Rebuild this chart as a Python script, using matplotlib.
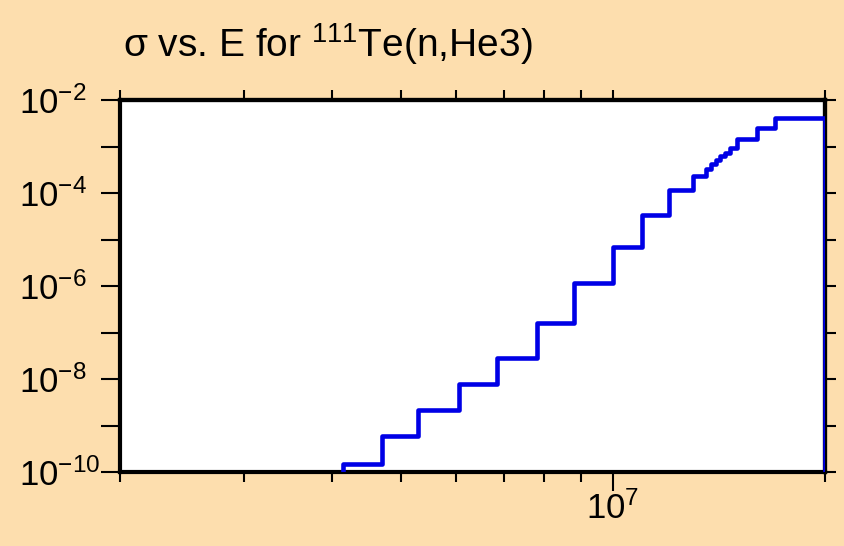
import numpy as np
import matplotlib
matplotlib.use('Agg')
import matplotlib.pyplot as plt
from matplotlib.ticker import LogLocator, NullFormatter, NullLocator, FixedLocator, FuncFormatter

plt.rcParams['font.family'] = ['Liberation Sans', 'DejaVu Sans']
plt.rcParams['mathtext.fontset'] = 'custom'
plt.rcParams['mathtext.rm'] = 'Liberation Sans'
plt.rcParams['mathtext.it'] = 'Liberation Sans'
plt.rcParams['mathtext.default'] = 'regular'
plt.rcParams['axes.unicode_minus'] = False

# step edges (eV) and cross sections (b); zero below threshold and above 20 MeV
energy = [4.15e6, 4.15e6, 4.7e6, 5.3e6, 6.05e6, 6.85e6, 7.8e6, 8.8e6, 1.0e7, 1.1e7,
          1.2e7, 1.3e7, 1.355e7, 1.38e7, 1.4e7, 1.42e7, 1.445e7, 1.465e7, 1.5e7,
          1.6e7, 1.7e7, 2.0e7]
sigma = [1e-30, 1.5e-10, 5.9e-10, 2.2e-9, 7.8e-9, 2.8e-8, 1.6e-7, 1.16e-6, 6.9e-6, 3.4e-5,
         1.16e-4, 2.3e-4, 3.3e-4, 4.2e-4, 5.1e-4, 6.3e-4, 7.2e-4, 9.3e-4, 1.45e-3,
         2.5e-3, 4.1e-3, 1e-30]
ydecades = list(range(-10, -1))

bg = '#fddeae'
fig = plt.figure(figsize=(8.44, 5.46), dpi=100, facecolor=bg)
ax = fig.add_axes([120/844, 1-472/546, 705/844, 372/546])
ax.set_facecolor('white')

ax.plot(energy, sigma, drawstyle='steps-post', color='#0000e6', lw=3.3, zorder=3)

ax.set_xscale('log')
ax.set_yscale('log')
ax.set_xlim(2e6, 2e7)
ax.set_ylim(1e-10, 1e-2)

for s in ax.spines.values():
    s.set_linewidth(3)

def ylab(v, p):
    k = int(round(np.log10(v)))
    return r'$10^{%d}$' % k if k % 2 == 0 else ''

ax.yaxis.set_major_locator(FixedLocator([10.0**k for k in ydecades]))
ax.yaxis.set_minor_locator(NullLocator())
ax.yaxis.set_major_formatter(FuncFormatter(ylab))
ax.xaxis.set_major_locator(FixedLocator([1e7]))
ax.xaxis.set_major_formatter(FuncFormatter(lambda v, p: r'$10^{7}$'))
ax.xaxis.set_minor_locator(LogLocator(base=10, subs=np.arange(2, 10), numticks=20))
ax.xaxis.set_minor_formatter(NullFormatter())

ax.tick_params(axis='y', which='major', direction='out', length=14, width=1.5,
               labelsize=25, left=True, right=False, pad=59)
ax.tick_params(axis='x', which='major', direction='out', length=14, width=1.5,
               labelsize=25, bottom=True, top=False, pad=0)
ax.tick_params(axis='x', which='minor', direction='out', length=7, width=1.5,
               bottom=True, top=False)
plt.setp(ax.get_yticklabels(), ha='left', va='center_baseline')

# top and right ticks (no labels)
sx = ax.secondary_xaxis('top')
sx.xaxis.set_major_locator(FixedLocator([1e7]))
sx.xaxis.set_minor_locator(LogLocator(base=10, subs=np.arange(2, 10), numticks=20))
sx.xaxis.set_major_formatter(NullFormatter())
sx.xaxis.set_minor_formatter(NullFormatter())
sx.tick_params(which='both', direction='out', length=7, width=1.5)
sx.spines['top'].set_linewidth(3)

sy = ax.secondary_yaxis('right')
sy.yaxis.set_major_locator(FixedLocator([10.0**k for k in ydecades]))
sy.yaxis.set_minor_locator(NullLocator())
sy.yaxis.set_major_formatter(NullFormatter())
sy.tick_params(which='both', direction='out', length=8, width=1.5)
sy.spines['right'].set_linewidth(3)

fig.text(123/844, 1-57/546, r'σ vs. E for $^{111}$Te(n,He3)', fontsize=28,
         va='baseline', ha='left')

fig.savefig('out.png', dpi=100, facecolor=bg)
